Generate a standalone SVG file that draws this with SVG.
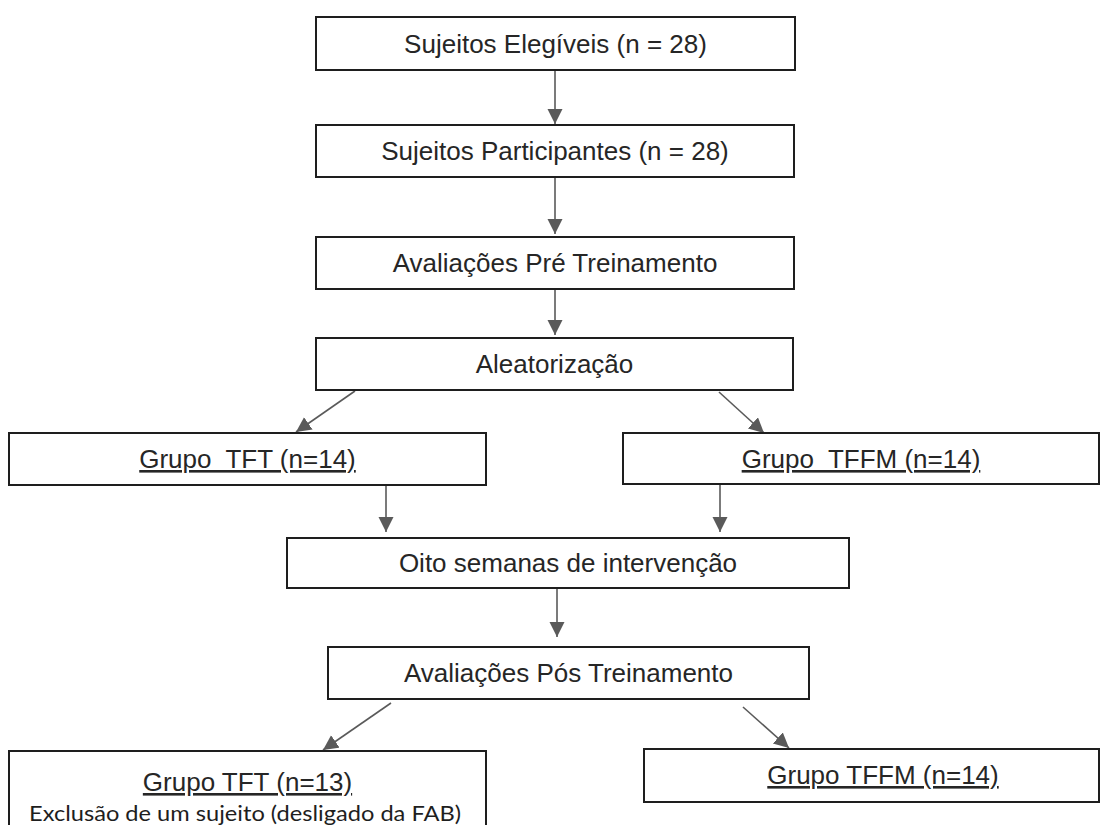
<svg xmlns="http://www.w3.org/2000/svg" width="1108" height="825" viewBox="0 0 1108 825">
<style>
.box{fill:#ffffff;stroke:#1e1e1e;stroke-width:2}
.t{font-family:"Liberation Sans",Arial,sans-serif;font-size:26px;fill:#262626;text-anchor:middle;white-space:pre}
.u{text-decoration:underline}
.note{font-family:Lato,"Open Sans",sans-serif;font-size:21px;fill:#1e1e1e}
.c{stroke:#5a5a5a;stroke-width:1.6;fill:none;marker-end:url(#ah)}
</style>
<defs>
<marker id="ah" markerUnits="userSpaceOnUse" markerWidth="16" markerHeight="16" refX="15" refY="7.5" orient="auto">
<path d="M0,0 L15,7.5 L0,15 Z" fill="#5a5a5a"/>
</marker>
</defs>
<rect width="1108" height="825" fill="#ffffff"/>
<g id="connectors">
<line class="c" x1="555" y1="70" x2="555" y2="124"/>
<line class="c" x1="555" y1="177" x2="555" y2="234"/>
<line class="c" x1="555" y1="289" x2="555" y2="335"/>
<line class="c" x1="355" y1="391" x2="296" y2="432"/>
<line class="c" x1="719" y1="392" x2="764" y2="433"/>
<line class="c" x1="386" y1="485" x2="386" y2="532"/>
<line class="c" x1="720" y1="484" x2="720" y2="532"/>
<line class="c" x1="557" y1="588" x2="557" y2="637"/>
<line class="c" x1="391" y1="703" x2="323" y2="750"/>
<line class="c" x1="743" y1="707" x2="789" y2="748"/>
</g>
<g id="n1"><rect class="box" x="316" y="17" width="479" height="53"/><text class="t" x="555.5" y="53">Sujeitos Elegíveis (n = 28)</text></g>
<g id="n2"><rect class="box" x="316" y="125" width="478" height="52"/><text class="t" x="555" y="160">Sujeitos Participantes (n = 28)</text></g>
<g id="n3"><rect class="box" x="316" y="237" width="478" height="52"/><text class="t" x="555" y="272">Avaliações Pré Treinamento</text></g>
<g id="n4"><rect class="box" x="316" y="338" width="477" height="52"/><text class="t" x="554.5" y="373">Aleatorização</text></g>
<g id="n5"><rect class="box" x="9" y="433" width="477" height="52"/><text class="t u" x="247.5" y="468">Grupo  TFT (n=14)</text></g>
<g id="n6"><rect class="box" x="623" y="433" width="476" height="51"/><text class="t u" x="861" y="468">Grupo  TFFM (n=14)</text></g>
<g id="n7"><rect class="box" x="287" y="538" width="562" height="50"/><text class="t" x="568" y="572">Oito semanas de intervenção</text></g>
<g id="n8"><rect class="box" x="328" y="647" width="481" height="52"/><text class="t" x="568.5" y="682">Avaliações Pós Treinamento</text></g>
<g id="n9"><rect class="box" x="9" y="751" width="477" height="90"/><text class="t u" x="247.5" y="791">Grupo TFT (n=13)</text><text class="note" x="29" y="821" textLength="432" lengthAdjust="spacingAndGlyphs">Exclusão de um sujeito (desligado da FAB)</text></g>
<g id="n10"><rect class="box" x="644" y="749" width="455" height="53"/><text class="t u" x="883" y="784">Grupo TFFM (n=14)</text></g>
</svg>
